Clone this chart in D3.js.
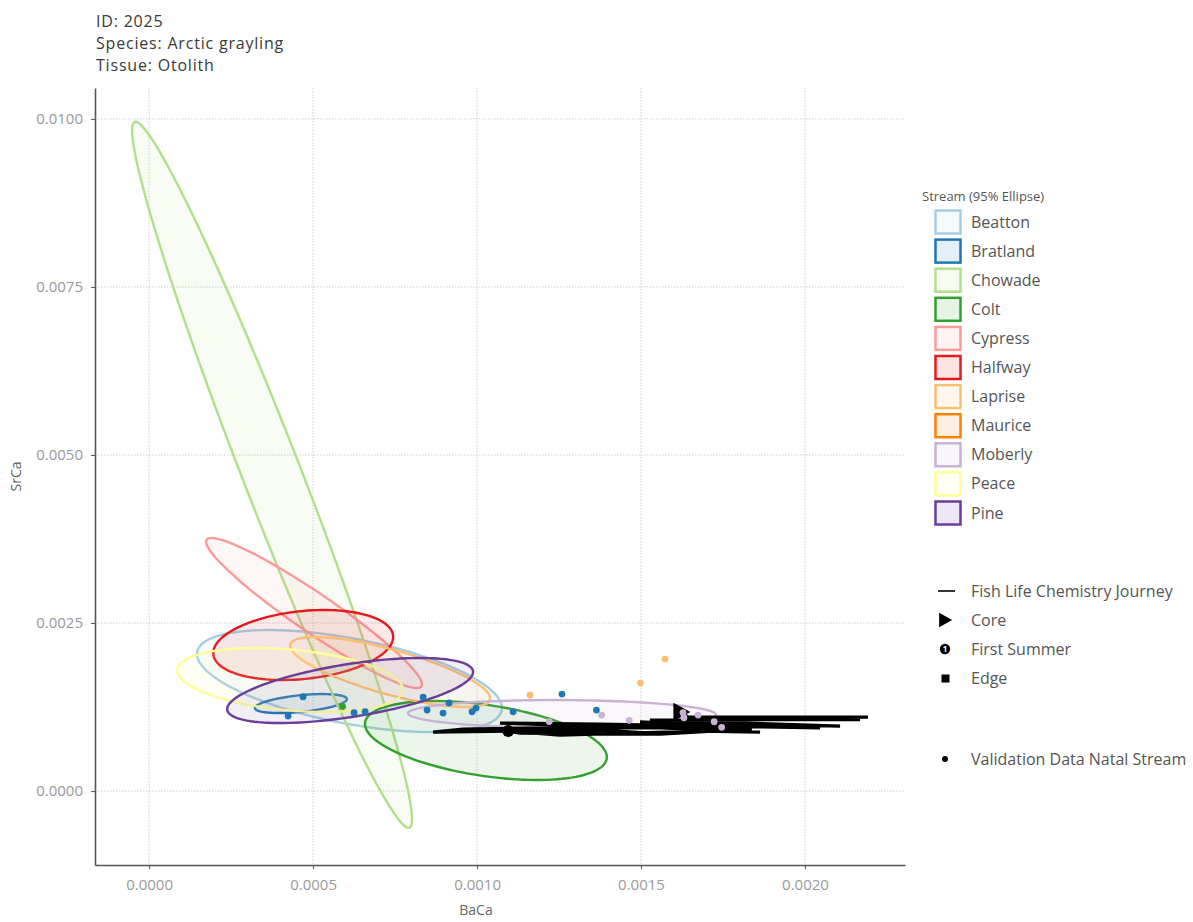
<!DOCTYPE html>
<html>
<head>
<meta charset="utf-8">
<script src="https://cdn.jsdelivr.net/npm/d3@7"></script>
<style>
  html, body { margin: 0; padding: 0; background: #fff; }
  svg text { font-family: "Open Sans", "Noto Sans", sans-serif; }
</style>
</head>
<body>
<svg id="chart" width="1193" height="922"></svg>
<script>
// ---- Plot header ----
const titleLines = ["ID: 2025", "Species: Arctic grayling", "Tissue: Otolith"];

// ---- Streams and their 95% ellipse statistics (BaCa vs SrCa) ----
const streams = ["Beatton", "Bratland", "Chowade", "Colt", "Cypress", "Halfway",
                 "Laprise", "Maurice", "Moberly", "Peace", "Pine"];
const streamColors = ["#a6cee3", "#1f78b4", "#b2df8a", "#33a02c", "#fb9a99", "#e31a1c",
                      "#fdbf6f", "#ff7f00", "#cab2d6", "#ffff99", "#6a3d9a"];
const meanBaCa = [0.000611, 0.000463, 0.000375, 0.001027, 0.000503, 0.000470,
                  0.000735, null, 0.001259, 0.000430, 0.000613];
const meanSrCa = [0.001637, 0.001302, 0.004705, 0.000752, 0.002649, 0.002173,
                  0.001771, null, 0.001146, 0.001652, 0.001496];
const sdBaCa   = [0.000190, 0.0000573, 0.0001744, 0.0001507, 0.0001345, 0.0001121,
                  0.0001246, null, 0.0001918, 0.0001407, 0.0001532];
const sdSrCa   = [0.000310, 0.0000578, 0.002146, 0.000240, 0.000456, 0.0002128,
                  0.0002128, null, 0.0000851, 0.0001945, 0.0001976];
const corrBaSr = [-0.53, 0.47, -0.975, -0.42, -0.95, 0.23,
                  -0.75, null, -0.05, -0.30, 0.57];

// ---- Validation samples of known natal stream ----
const valStream = ["Bratland", "Bratland", "Bratland", "Bratland", "Bratland", "Bratland",
                   "Bratland", "Bratland", "Bratland", "Bratland", "Bratland", "Bratland",
                   "Bratland", "Colt", "Laprise", "Laprise", "Laprise",
                   "Moberly", "Moberly", "Moberly", "Moberly", "Moberly", "Moberly",
                   "Moberly", "Moberly"];
const valBaCa = [0.0004695, 0.0004238, 0.000625, 0.0006585, 0.0008354, 0.0008476,
                 0.0008963, 0.0009146, 0.0009848, 0.000997, 0.00111, 0.001259,
                 0.001364, 0.00059, 0.0011616, 0.0014985, 0.001573,
                 0.00122, 0.00138, 0.001464, 0.001628, 0.001631, 0.001674,
                 0.001723, 0.001746];
const valSrCa = [0.001403, 0.001116, 0.001165, 0.001183, 0.001399, 0.001205,
                 0.001161, 0.00131, 0.00118, 0.001235, 0.00118, 0.001443,
                 0.001205, 0.001257, 0.001429, 0.001607, 0.001964,
                 0.001034, 0.001131, 0.001052, 0.001165, 0.001091, 0.001131,
                 0.001031, 0.000948];

// ---- Otolith transect, core to edge ----
const journeyBaCa = [0.001622, 0.001643, 0.002192, 0.00168, 0.002168, 0.001527,
                     0.002107, 0.001497, 0.002046, 0.001375, 0.00107, 0.001436,
                     0.000957, 0.000866, 0.001375, 0.001527, 0.001838, 0.001558,
                     0.001131, 0.001095, 0.001253, 0.00168, 0.001863, 0.001436,
                     0.001985, 0.00168, 0.001253];
const journeySrCa = [0.001176, 0.001101, 0.001101, 0.001071, 0.001064, 0.001057,
                     0.000967, 0.001027, 0.000938, 0.000997, 0.001012, 0.000952,
                     0.000923, 0.000878, 0.000908, 0.000863, 0.000923, 0.000848,
                     0.000863, 0.000893, 0.000833, 0.000893, 0.000878, 0.000967,
                     0.000982, 0.000952, 0.000938];
const firstSummerIndex = 19;

// ---- Axes ----
const xTicks = [0, 0.0005, 0.0010, 0.0015, 0.0020];
const yTicks = [0, 0.0025, 0.0050, 0.0075, 0.0100];
const xDomain = [-0.000165, 0.002305];
const yDomain = [-0.0011, 0.01046];

const panel = { left: 95, right: 905, top: 88, bottom: 865 };
const svg = d3.select("#chart");
const x = d3.scaleLinear().domain(xDomain).range([panel.left, panel.right]);
const y = d3.scaleLinear().domain(yDomain).range([panel.bottom, panel.top]);
const colorOf = d3.scaleOrdinal().domain(streams).range(streamColors);

svg.append("rect").attr("width", 1193).attr("height", 922).attr("fill", "#fff");

// Grid
const grid = svg.append("g");
grid.selectAll("line.gx").data(xTicks).join("line")
  .attr("x1", d => x(d)).attr("x2", d => x(d))
  .attr("y1", panel.top).attr("y2", panel.bottom)
  .attr("stroke", "#cacaca").attr("stroke-width", 0.9).attr("stroke-dasharray", "1.5,1.5");
grid.selectAll("line.gy").data(yTicks).join("line")
  .attr("x1", panel.left).attr("x2", panel.right)
  .attr("y1", d => y(d)).attr("y2", d => y(d))
  .attr("stroke", "#cacaca").attr("stroke-width", 0.9).attr("stroke-dasharray", "1.5,1.5");

// 95% ellipses from mean, sd and correlation
const k95 = Math.sqrt(5.991);
function ellipsePoints(i) {
  const pts = [];
  const r = corrBaSr[i], s = Math.sqrt(1 - r * r);
  for (let j = 0; j <= 120; j++) {
    const t = (j / 120) * 2 * Math.PI;
    pts.push([
      meanBaCa[i] + k95 * sdBaCa[i] * Math.cos(t),
      meanSrCa[i] + k95 * sdSrCa[i] * (r * Math.cos(t) + s * Math.sin(t))
    ]);
  }
  return pts;
}
const lineGen = d3.line().x(d => x(d[0])).y(d => y(d[1]));
const plotArea = svg.append("g");
streams.forEach((name, i) => {
  if (meanBaCa[i] == null) return;
  plotArea.append("path")
    .attr("d", lineGen(ellipsePoints(i)) + "Z")
    .attr("fill", streamColors[i]).attr("fill-opacity", 0.09)
    .attr("stroke", streamColors[i]).attr("stroke-width", 2.4);
});

// Transect path
const journey = journeyBaCa.map((v, i) => [v, journeySrCa[i]]);
plotArea.append("path")
  .attr("d", lineGen(journey))
  .attr("fill", "none").attr("stroke", "#000").attr("stroke-width", 3.2)
  .attr("stroke-linejoin", "miter").attr("stroke-miterlimit", 10);

// Markers: core, first summer, edge
function coreTriangle(cx, cy, s) {
  return `M${cx - s * 0.45},${cy - s * 0.55}L${cx + s * 0.55},${cy}L${cx - s * 0.45},${cy + s * 0.55}Z`;
}
const core = journey[0], fs = journey[firstSummerIndex], edge = journey[journey.length - 1];
plotArea.append("path").attr("d", coreTriangle(x(core[0]), y(core[1]), 17)).attr("fill", "#000");
plotArea.append("circle").attr("cx", x(fs[0])).attr("cy", y(fs[1])).attr("r", 6).attr("fill", "#000");
plotArea.append("rect").attr("x", x(edge[0]) - 5).attr("y", y(edge[1]) - 5)
  .attr("width", 10).attr("height", 10).attr("fill", "#000");

// Validation points
plotArea.selectAll("circle.val").data(valStream).join("circle")
  .attr("cx", (d, i) => x(valBaCa[i])).attr("cy", (d, i) => y(valSrCa[i]))
  .attr("r", 3.4).attr("fill", d => colorOf(d));

// Axes
const xAxis = svg.append("g").attr("transform", `translate(0,${panel.bottom})`)
  .call(d3.axisBottom(x).tickValues(xTicks).tickFormat(d3.format(".4f")).tickSize(4).tickSizeOuter(0));
const yAxis = svg.append("g").attr("transform", `translate(${panel.left},0)`)
  .call(d3.axisLeft(y).tickValues(yTicks).tickFormat(d3.format(".4f")).tickSize(4).tickSizeOuter(0));
[xAxis, yAxis].forEach(a => {
  a.select(".domain").attr("stroke", "#555").attr("stroke-width", 1.6);
  a.selectAll(".tick line").attr("stroke", "#555").attr("stroke-width", 1);
  a.selectAll(".tick text").attr("fill", "#9a9a9a").attr("font-size", 15)
    .style("font-family", '"Open Sans", sans-serif');
});
xAxis.selectAll(".tick text").attr("dy", "1.2em");
yAxis.selectAll(".tick text").attr("x", -12);

svg.append("text").attr("x", 476).attr("y", 915)
  .attr("text-anchor", "middle").attr("font-size", 14).attr("fill", "#666").text("BaCa");
svg.append("text").attr("transform", `translate(21,${(panel.top + panel.bottom) / 2}) rotate(-90)`)
  .attr("text-anchor", "middle").attr("font-size", 14).attr("fill", "#666").text("SrCa");

// Title block
svg.append("g").selectAll("text").data(titleLines).join("text")
  .attr("x", 96).attr("y", (d, i) => 27 + i * 22)
  .attr("font-size", 16).attr("letter-spacing", 0.8).attr("fill", "#3a3a3a").text(d => d);

// Legend: streams
const leg = svg.append("g");
leg.append("text").attr("x", 922).attr("y", 201).attr("font-size", 13).attr("fill", "#555")
  .text("Stream (95% Ellipse)");
streams.forEach((name, i) => {
  const cy = 222 + i * 29.1;
  leg.append("rect").attr("x", 935.5).attr("y", cy - 11.5).attr("width", 25).attr("height", 23)
    .attr("fill", "#fff");
  leg.append("rect").attr("x", 935.5).attr("y", cy - 11.5).attr("width", 25).attr("height", 23)
    .attr("fill", streamColors[i]).attr("fill-opacity", 0.12)
    .attr("stroke", streamColors[i]).attr("stroke-width", 2.5);
  leg.append("text").attr("x", 971).attr("y", cy + 5.5).attr("font-size", 16).attr("fill", "#555")
    .text(name);
});

// Legend: transect symbols
const leg2 = svg.append("g");
const sym = [
  { label: "Fish Life Chemistry Journey", cy: 591 },
  { label: "Core", cy: 620 },
  { label: "First Summer", cy: 649 },
  { label: "Edge", cy: 678 },
  { label: "Validation Data Natal Stream", cy: 759 }
];
sym.forEach(s => leg2.append("text").attr("x", 971).attr("y", s.cy + 5.5)
  .attr("font-size", 16).attr("fill", "#555").text(s.label));
leg2.append("line").attr("x1", 938).attr("x2", 955).attr("y1", 591).attr("y2", 591)
  .attr("stroke", "#000").attr("stroke-width", 1.6);
leg2.append("path").attr("d", coreTriangle(945, 620, 13)).attr("fill", "#000");
leg2.append("circle").attr("cx", 945).attr("cy", 649).attr("r", 5.2).attr("fill", "#000");
leg2.append("text").attr("x", 945).attr("y", 652).attr("text-anchor", "middle")
  .attr("font-size", 8).attr("font-weight", 700).attr("fill", "#fff").text("1");
leg2.append("rect").attr("x", 941.5).attr("y", 674.5).attr("width", 8).attr("height", 8).attr("fill", "#000");
leg2.append("circle").attr("cx", 945).attr("cy", 759).attr("r", 3).attr("fill", "#000");
</script>
</body>
</html>
